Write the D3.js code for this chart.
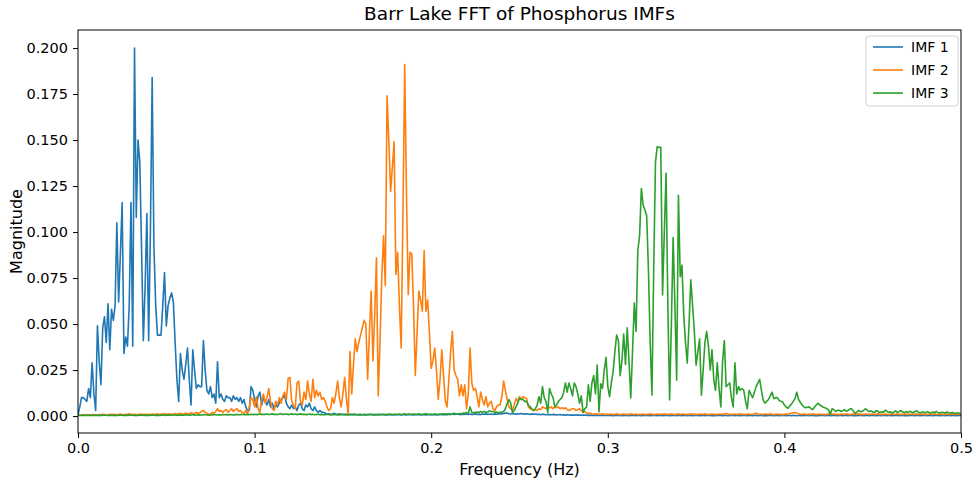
<!DOCTYPE html>
<html>
<head>
<meta charset="utf-8">
<script src="https://cdn.jsdelivr.net/npm/d3@7"></script>
<style>
  body { margin: 0; background: #fff; }
  svg { display: block; font-family: "DejaVu Sans", sans-serif; }
</style>
</head>
<body>
<svg id="chart" width="976" height="483"></svg>
<script>
// FFT magnitude of each IMF, in units of 1e-3, one value per 0.001 Hz bin (0 .. 0.5 Hz)
const freqStep = 0.001;

const imf1 = [
  0.5, 5, 10, 10, 9, 8, 15, 10, 29, 12,
  3, 49, 30, 17, 48, 54, 40, 61, 36, 58,
  52, 60, 105, 62, 88, 116, 34, 43, 38, 60,
  116, 38, 200, 108, 150, 138, 90, 41, 70, 110,
  41, 100, 184, 92, 60, 44, 44, 44, 60, 78,
  49, 60, 64, 67, 62, 40, 20, 8, 34, 25,
  20, 28, 37, 20, 6, 36, 25, 15, 17, 16,
  16, 41, 25, 14, 12, 16, 10, 12, 7, 29.5,
  10, 12, 9, 8, 11, 10, 10, 8, 11, 9,
  10, 8, 10, 7, 9, 5, 3, 3, 16, 14,
  9, 5, 11, 13, 6, 10, 8, 6, 9, 5,
  7, 4, 6, 5, 7, 9, 10, 11, 7, 5,
  4, 6, 4, 5, 3, 6, 7, 4, 3, 6,
  5, 7, 4, 3, 5, 3, 2, 3, 2, 2,
  1.5, 1, 1.2, 0.8, 1, 1.5, 1, 0.8, 1.2, 1,
  1, 0.8, 1, 0.7, 1, 0.9, 0.8, 1, 0.7, 0.9,
  0.8, 0.7, 0.9, 0.6, 0.8, 0.7, 1, 0.8, 0.6, 0.7,
  0.9, 0.7, 0.8, 1, 0.6, 0.7, 0.9, 0.8, 0.7, 0.6,
  0.8, 0.7, 0.9, 0.6, 0.7, 0.8, 0.6, 0.9, 0.7, 0.8,
  0.6, 0.8, 0.7, 0.9, 0.6, 0.8, 0.7, 0.6, 0.8, 0.7,
  0.9, 0.7, 0.8, 0.6, 0.7, 1, 0.8, 0.7, 0.9, 0.8,
  1, 0.8, 1.2, 0.9, 1, 1.1, 0.8, 1, 0.9, 1.2,
  1, 0.9, 1.1, 0.8, 1, 1.2, 0.9, 1, 0.8, 1.1,
  1, 1.2, 0.9, 1, 1.1, 0.9, 1.2, 1, 1.3, 1.1,
  1.2, 1.4, 1.6, 1.7, 1.3, 1.1, 1.4, 1.2, 1, 1.3,
  1.1, 1.4, 1.2, 1, 1.3, 1.1, 0.9, 1.2, 1, 1.1,
  0.9, 1, 0.8, 1, 0.9, 0.7, 0.9, 0.8, 0.7, 0.9,
  0.8, 0.6, 0.7, 0.8, 0.6, 0.7, 0.5, 0.7, 0.6, 0.5,
  0.6, 0.5, 0.7, 0.5, 0.6, 0.4, 0.5, 0.6, 0.4, 0.5,
  0.4, 0.5, 0.3, 0.4, 0.5, 0.3, 0.4, 0.3, 0.4, 0.3,
  0.3, 0.4, 0.3, 0.2, 0.3, 0.4, 0.3, 0.3, 0.2, 0.3,
  0.4, 0.3, 0.2, 0.3, 0.3, 0.4, 0.2, 0.3, 0.3, 0.2,
  0.3, 0.4, 0.3, 0.3, 0.2, 0.3, 0.4, 0.3, 0.2, 0.3,
  0.3, 0.2, 0.4, 0.3, 0.3, 0.2, 0.3, 0.3, 0.4, 0.2,
  0.3, 0.3, 0.2, 0.4, 0.3, 0.2, 0.3, 0.3, 0.2, 0.3,
  0.4, 0.3, 0.2, 0.3, 0.3, 0.2, 0.4, 0.3, 0.3, 0.2,
  0.3, 0.2, 0.3, 0.4, 0.3, 0.2, 0.3, 0.3, 0.2, 0.3,
  0.3, 0.4, 0.2, 0.3, 0.3, 0.2, 0.3, 0.4, 0.3, 0.2,
  0.3, 0.3, 0.2, 0.3, 0.4, 0.2, 0.3, 0.3, 0.2, 0.3,
  0.2, 0.3, 0.4, 0.3, 0.2, 0.3, 0.3, 0.2, 0.3, 0.4,
  0.3, 0.2, 0.3, 0.3, 0.2, 0.4, 0.3, 0.2, 0.3, 0.3,
  0.2, 0.3, 0.3, 0.4, 0.2, 0.3, 0.3, 0.2, 0.3, 0.2,
  0.3, 0.4, 0.3, 0.2, 0.3, 0.3, 0.2, 0.3, 0.4, 0.3,
  0.2, 0.3, 0.3, 0.2, 0.3, 0.4, 0.2, 0.3, 0.3, 0.2,
  0.3, 0.2, 0.3, 0.4, 0.3, 0.2, 0.3, 0.3, 0.2, 0.3,
  0.4, 0.3, 0.2, 0.3, 0.3, 0.2, 0.3, 0.4, 0.2, 0.3,
  0.3, 0.2, 0.3, 0.3, 0.4, 0.2, 0.3, 0.3, 0.2, 0.3,
  0.2, 0.3, 0.4, 0.3, 0.2, 0.3, 0.3, 0.2, 0.3, 0.4,
  0.3, 0.2, 0.3, 0.3, 0.2, 0.3, 0.4, 0.3, 0.2, 0.3,
  0.3, 0.2, 0.3, 0.4, 0.2, 0.3, 0.3, 0.2, 0.3, 0.3,
  0.2
];

const imf2 = [
  0.5, 0.6, 0.5, 0.7, 0.6, 0.8, 0.6, 0.5, 0.7, 0.9,
  0.7, 0.6, 0.8, 0.7, 1, 0.8, 0.6, 0.7, 0.9, 0.8,
  1, 0.8, 0.7, 0.9, 1.1, 0.8, 0.7, 1, 0.9, 1.2,
  0.9, 0.8, 1, 0.7, 0.9, 1.1, 0.8, 1, 0.9, 0.8,
  1, 0.9, 1.1, 0.8, 1, 1.2, 0.9, 1.1, 1, 1.3,
  1.1, 1, 1.2, 0.9, 1.1, 1.4, 1, 1.2, 1.5, 1.1,
  1.3, 1.6, 1.2, 1.4, 1.8, 1.3, 1.5, 2, 1.4, 1.8,
  2.5, 3, 2, 1.5, 1, 1, 2, 1.5, 2.5, 4,
  2.5, 3, 2, 3, 3.5, 2, 3, 4, 2.5, 3.5,
  4, 2.5, 3, 2, 1.5, 3, 1, 5, 10, 9,
  5, 10.5, 4, 2, 9, 12, 7, 10, 15, 8,
  4, 3, 8, 6, 10, 7, 11, 13, 9, 20.5,
  21, 8, 6, 4, 18, 19, 8, 6, 13, 9,
  19, 12, 8, 20, 10, 14, 11, 13, 9, 10,
  8, 5, 3, 4, 10, 7, 12, 19, 10, 5,
  12, 21, 9, 1, 35, 12, 28, 42, 35, 40,
  44, 48, 52, 50, 20, 45, 68, 30, 55, 86,
  11, 40, 75, 98, 71, 174, 150, 122, 135, 149,
  77, 89, 60, 37, 110, 191, 120, 66, 89, 88,
  60, 22, 45, 68, 63, 57, 90, 57, 63, 45,
  26, 30, 37, 25, 9, 20, 36, 22, 8, 5,
  20, 35, 46, 25, 22, 20, 11, 17, 11, 17,
  4, 12, 37, 18, 14, 15, 11, 5, 13, 9,
  6, 10.5, 5, 7, 8, 4, 3, 5, 6, 6,
  10.5, 19, 14, 9, 5, 4, 3, 6, 9.6, 8,
  10.5, 9, 10.5, 10, 9.6, 5, 4, 3.5, 3, 3.5,
  3, 4, 3.5, 5, 4.5, 4, 5, 4.5, 5, 4,
  5, 4.5, 5, 4, 4.5, 4, 4.5, 3.5, 3, 3.5,
  4, 4, 3, 3.5, 4, 3, 2, 2.5, 1.5, 1.5,
  1.5, 1.2, 1, 1.3, 1.1, 0.9, 1, 1.2, 0.8, 1,
  1, 0.9, 1.1, 0.8, 1, 1.2, 0.9, 0.8, 1, 1.1,
  0.9, 1, 0.8, 1.2, 1, 0.9, 1.1, 0.8, 1, 0.9,
  1.1, 0.8, 1, 0.9, 1.2, 1, 0.8, 0.9, 1.1, 1,
  0.9, 1, 1.2, 0.8, 1, 0.9, 1.1, 1, 0.8, 1,
  1.2, 0.9, 1, 1.1, 0.8, 1, 0.9, 1.3, 1, 0.9,
  1, 0.8, 1.1, 1, 0.9, 1.2, 1, 0.8, 1, 1.1,
  0.9, 1, 0.8, 1.1, 1, 0.9, 1.2, 1.4, 1.1, 0.9,
  1, 0.8, 1.1, 0.9, 1, 1.2, 0.9, 1, 0.8, 1,
  1.1, 0.9, 1, 1.3, 1.5, 1.1, 0.9, 1, 0.8, 1.1,
  1, 0.9, 1.2, 1, 0.8, 1, 1.1, 0.9, 1, 0.8,
  1, 1.1, 0.9, 1.2, 1.5, 1.8, 2, 1.6, 1.2, 1,
  0.9, 1.1, 1, 0.8, 1, 0.9, 1.2, 1, 0.8, 1,
  1.1, 0.9, 1, 0.8, 1, 1.2, 0.9, 1, 1.1, 0.9,
  1, 0.8, 1.1, 1, 0.9, 1.2, 1, 0.8, 1, 1.1,
  0.9, 1, 1.2, 0.9, 1, 0.8, 1.1, 1, 0.9, 1,
  1.1, 0.9, 1, 1.2, 0.8, 1, 0.9, 1.1, 1, 0.8,
  1, 1.1, 0.9, 1, 1.2, 0.9, 1, 0.8, 1.1, 1,
  0.9, 1, 1.1, 0.8, 1, 1.2, 0.9, 1, 1.1, 0.9,
  1, 0.8, 1.1, 1, 0.9, 1.2, 1, 0.9, 1.1, 1,
  0.8, 1, 1.1, 0.9, 1, 1.2, 1, 0.9, 1, 1.1,
  1
];

const imf3 = [
  0.3, 0.4, 0.3, 0.5, 0.4, 0.3, 0.4, 0.5, 0.3, 0.4,
  0.5, 0.4, 0.3, 0.5, 0.4, 0.6, 0.4, 0.3, 0.5, 0.4,
  0.4, 0.5, 0.3, 0.4, 0.6, 0.4, 0.5, 0.3, 0.4, 0.5,
  0.6, 0.4, 0.5, 0.4, 0.3, 0.5, 0.6, 0.4, 0.5, 0.4,
  0.5, 0.4, 0.6, 0.5, 0.4, 0.5, 0.3, 0.5, 0.6, 0.4,
  0.5, 0.6, 0.4, 0.5, 0.7, 0.5, 0.4, 0.6, 0.5, 0.6,
  0.5, 0.7, 0.6, 0.5, 0.6, 0.8, 0.5, 0.6, 0.7, 0.5,
  0.6, 0.8, 0.7, 0.6, 0.5, 0.7, 0.6, 0.8, 0.7, 0.6,
  0.7, 0.6, 0.8, 0.7, 0.9, 0.6, 0.8, 0.7, 0.6, 0.8,
  0.9, 0.7, 0.8, 1, 0.7, 0.8, 0.9, 0.7, 1, 0.8,
  1, 0.8, 0.9, 1.2, 0.8, 1, 0.9, 1.1, 0.8, 1,
  1.2, 0.9, 1, 0.8, 1.1, 1.3, 0.9, 1, 1.1, 0.8,
  1, 1.2, 0.9, 1.1, 0.8, 1, 1.2, 0.9, 1, 0.8,
  0.9, 1.1, 0.8, 1, 0.7, 0.9, 1, 0.8, 0.9, 0.7,
  0.8, 1, 0.7, 0.9, 0.8, 0.7, 0.9, 0.8, 0.6, 0.8,
  0.7, 0.9, 0.8, 0.6, 0.8, 0.7, 0.9, 0.8, 0.7, 0.6,
  0.8, 0.7, 0.9, 0.8, 0.7, 1, 0.8, 0.7, 0.9, 0.8,
  0.9, 0.8, 1, 0.7, 0.9, 0.8, 1, 0.9, 0.8, 1,
  1, 0.9, 1.1, 0.8, 1, 1.2, 0.9, 1, 1.1, 0.9,
  1.1, 1, 0.9, 1.2, 1, 0.8, 1.1, 1.3, 1, 0.9,
  1, 0.8, 1.2, 1, 0.9, 0.8, 1.1, 1.3, 1, 1.2,
  1.2, 1, 1.3, 1.5, 1.2, 1, 1.4, 1.2, 1.6, 1.4,
  2, 1.5, 5, 2, 1.8, 2, 2.2, 1.8, 2.5, 2,
  2.5, 2, 2.2, 2.8, 2.5, 2.5, 2, 2.2, 1.8, 2,
  2, 2.5, 4, 6.9, 9, 7, 2, 3, 5, 7,
  9.8, 9, 9, 8, 8, 6, 5, 4, 3, 4,
  6, 10.5, 7, 16, 10, 8, 2, 15, 12, 10,
  5, 6, 8, 9, 10, 13, 18, 13, 18, 15,
  11, 18, 16, 12, 7, 11, 2, 4, 5, 17,
  8, 18, 22, 12, 27.7, 2.3, 17.5, 15, 25, 32,
  16, 10.5, 18, 24, 35, 44, 41, 22, 30, 44.6,
  28, 48, 30, 9.8, 35, 61.4, 46, 90, 98, 123.7,
  114.7, 112, 109, 80, 40, 11.4, 80, 138, 146.4, 146,
  146, 65.8, 100, 132, 60, 8.7, 50, 97, 60, 19.5,
  120, 75.7, 82, 55, 40, 28.8, 50, 74, 60, 46,
  27.7, 35, 42, 11.4, 25, 40, 46, 38, 25, 36,
  20, 14, 29, 15, 5, 30, 41, 16, 17, 18,
  10, 5, 29, 12, 16, 14, 15, 14, 8, 4,
  14, 12, 10, 13, 16, 18, 20, 14, 8.7, 7,
  8, 9, 11, 13, 9.5, 10, 10, 8.5, 8, 7.7,
  6, 5, 4.2, 5.5, 6.5, 8, 9.5, 13, 9, 7.5,
  6, 5, 4.5, 4.8, 5, 4.2, 3.5, 4.8, 6, 7,
  6, 5.5, 4.8, 4.5, 4, 3.5, 0.8, 4, 3.5, 2.5,
  3, 3.2, 2.5, 2.8, 3.5, 2.6, 3, 3.8, 4, 2.8,
  1.5, 2.2, 3, 2.4, 2.5, 3.2, 4, 3, 2.5, 2.8,
  2.2, 2, 3, 2.5, 1.8, 2.4, 2, 3.2, 2.6, 2,
  2.4, 1.6, 2.2, 2.8, 2, 2.5, 3, 2.2, 1.8, 2.4,
  2, 2.6, 2.2, 1.8, 2.5, 2.8, 2.1, 1.7, 2.3, 2,
  1.8, 2.4, 2, 1.6, 2.2, 1.9, 2.5, 2, 1.7, 2.1,
  1.9, 1.6, 2.2, 1.8, 1.5, 2, 1.7, 1.4, 1.8, 1.5,
  1.2
];

const seriesNames = ['IMF 1', 'IMF 2', 'IMF 3'];
const seriesColors = ['#1f77b4', '#ff7f0e', '#2ca02c'];
const xTicks = [0, 0.1, 0.2, 0.3, 0.4, 0.5];
const yTicks = [0, 0.025, 0.05, 0.075, 0.1, 0.125, 0.15, 0.175, 0.2];

const series = [imf1, imf2, imf3].map((vals, k) => ({
  name: seriesNames[k],
  color: seriesColors[k],
  points: vals.map((v, i) => ({ f: i * freqStep, m: v / 1000 }))
}));

const width = 976, height = 483;
const margin = {top: 30, right: 15, bottom: 50, left: 78};
const plotW = width - margin.left - margin.right;
const plotH = height - margin.top - margin.bottom;

const svg = d3.select('#chart');
svg.append('rect').attr('width', width).attr('height', height).attr('fill', '#fff');

const g = svg.append('g')
  .attr('transform', 'translate(' + margin.left + ',' + margin.top + ')');

const x = d3.scaleLinear().domain([0, 0.5]).range([0, plotW]);
const y = d3.scaleLinear().domain([-0.0092, 0.2098]).range([plotH, 0]);

g.append('clipPath').attr('id', 'clip')
  .append('rect').attr('width', plotW).attr('height', plotH);

const line = d3.line()
  .x((d) => x(d.f))
  .y((d) => y(d.m));

g.append('g')
  .attr('clip-path', 'url(#clip)')
  .selectAll('path')
  .data(series)
  .enter().append('path')
  .attr('d', (d) => line(d.points))
  .attr('fill', 'none')
  .attr('stroke', (d) => d.color)
  .attr('stroke-width', 1.6)
  .attr('stroke-linejoin', 'round');

// axes
const xAxis = g.append('g')
  .attr('transform', 'translate(0,' + plotH + ')')
  .call(d3.axisBottom(x).tickValues(xTicks).tickFormat(d3.format('.1f')).tickSize(5).tickPadding(5));

const yAxis = g.append('g')
  .call(d3.axisLeft(y).tickValues(yTicks).tickFormat(d3.format('.3f')).tickSize(5).tickPadding(5));

[xAxis, yAxis].forEach((ax) => {
  ax.select('.domain').remove();
  ax.selectAll('.tick line').attr('stroke', '#000').attr('stroke-width', 1);
  ax.selectAll('.tick text').attr('fill', '#000').style('font-size', '14.5px')
    .style('font-family', '"DejaVu Sans", sans-serif');
});

// frame
g.append('rect')
  .attr('width', plotW).attr('height', plotH)
  .attr('fill', 'none').attr('stroke', '#000').attr('stroke-width', 1);

// labels
svg.append('text')
  .attr('x', margin.left + plotW / 2).attr('y', 20)
  .attr('text-anchor', 'middle')
  .style('font-size', '18.5px')
  .text('Barr Lake FFT of Phosphorus IMFs');

svg.append('text')
  .attr('x', margin.left + plotW / 2).attr('y', 475)
  .attr('text-anchor', 'middle')
  .style('font-size', '16px')
  .text('Frequency (Hz)');

svg.append('text')
  .attr('transform', 'translate(22,' + (margin.top + plotH / 2) + ') rotate(-90)')
  .attr('text-anchor', 'middle')
  .style('font-size', '16px')
  .text('Magnitude');

// legend
const legend = g.append('g')
  .attr('transform', 'translate(' + (plotW - 95) + ',6)');

legend.append('rect')
  .attr('width', 92).attr('height', 70)
  .attr('rx', 3)
  .attr('fill', '#fff').attr('fill-opacity', 0.8)
  .attr('stroke', '#d0d0d0');

const item = legend.selectAll('.item')
  .data(series)
  .enter().append('g')
  .attr('class', 'item')
  .attr('transform', (d, i) => 'translate(7,' + (11 + i * 23) + ')');

item.append('line')
  .attr('x1', 0).attr('x2', 30)
  .attr('stroke', (d) => d.color).attr('stroke-width', 1.6);

item.append('text')
  .attr('x', 38).attr('dy', '0.35em')
  .style('font-size', '14px')
  .text((d) => d.name);
</script>
</body>
</html>
